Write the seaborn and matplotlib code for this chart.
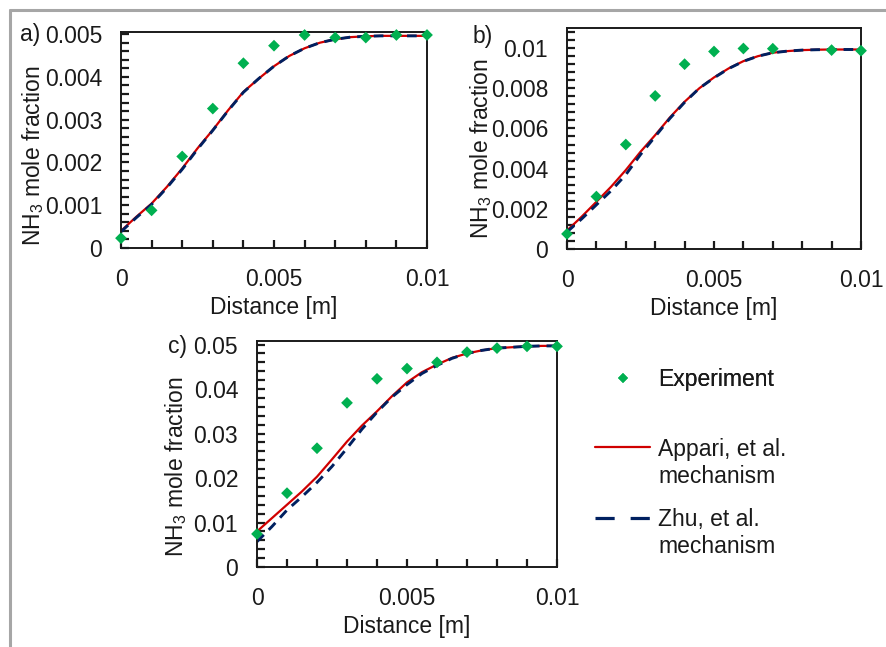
import numpy as np
import pandas as pd
import matplotlib
matplotlib.use("Agg")
import matplotlib.pyplot as plt
from matplotlib.lines import Line2D
from matplotlib.legend_handler import HandlerLine2D
from matplotlib.ticker import FixedLocator, FixedFormatter
import seaborn as sns

# ---------------- data ----------------
exp_x = [0, 0.001, 0.002, 0.003, 0.004, 0.005, 0.006, 0.007, 0.008, 0.009, 0.01]
exp_a = [0.00023, 0.00088, 0.00214, 0.00326, 0.00432, 0.00473, 0.00498, 0.00492, 0.00492, 0.00498, 0.00498]
exp_b_x = [0, 0.001, 0.002, 0.003, 0.004, 0.005, 0.006, 0.007, 0.009, 0.01]
exp_b = [0.00075, 0.00261, 0.0052, 0.00762, 0.0092, 0.00983, 0.00998, 0.00997, 0.0099, 0.00987]
exp_c = [0.00743, 0.0166, 0.0267, 0.0369, 0.0423, 0.0446, 0.046, 0.0483, 0.0492, 0.0496, 0.0496]

model_x = [0, 0.0005, 0.001, 0.0015, 0.002, 0.0025, 0.003, 0.0035, 0.004, 0.0045, 0.005,
           0.0055, 0.006, 0.0065, 0.007, 0.0075, 0.008, 0.0085, 0.009, 0.0095, 0.01]
appari_a = [0.0004, 0.00073, 0.00104, 0.00143, 0.00186, 0.00233, 0.00276, 0.00322, 0.00365, 0.00396, 0.00425,
            0.00449, 0.00467, 0.0048, 0.00488, 0.00493, 0.00495, 0.00496, 0.00496, 0.00496, 0.00496]
zhu_a = [0.00038, 0.00071, 0.00102, 0.00141, 0.00184, 0.00231, 0.00275, 0.00321, 0.00364, 0.00396, 0.00425,
         0.00449, 0.00467, 0.0048, 0.00488, 0.00493, 0.00495, 0.00496, 0.00496, 0.00496, 0.00496]
appari_b = [0.00092, 0.00161, 0.00235, 0.0031, 0.00393, 0.00484, 0.00567, 0.00655, 0.00733, 0.008, 0.00854,
            0.00899, 0.00935, 0.0096, 0.00977, 0.00985, 0.0099, 0.00992, 0.00993, 0.00993, 0.00993]
zhu_b = [0.00085, 0.0015, 0.0022, 0.0029, 0.0037, 0.0047, 0.0056, 0.0065, 0.0073, 0.008, 0.00852,
         0.00898, 0.00934, 0.0096, 0.00977, 0.00985, 0.0099, 0.00992, 0.00993, 0.00993, 0.00993]
appari_c = [0.008, 0.011, 0.014, 0.017, 0.0203, 0.0242, 0.0282, 0.0318, 0.035, 0.0384, 0.0415,
            0.0438, 0.0455, 0.047, 0.048, 0.0487, 0.0492, 0.0494, 0.0496, 0.0497, 0.0497]
zhu_c = [0.0057, 0.0091, 0.0128, 0.0158, 0.019, 0.0226, 0.0267, 0.031, 0.0348, 0.0382, 0.041,
         0.0435, 0.0453, 0.0469, 0.048, 0.0487, 0.0492, 0.0494, 0.0496, 0.0497, 0.0497]

x_major = [0, 0.005, 0.01]
x_labels = ["0", "0.005", "0.01"]
y_major_a = [0, 0.001, 0.002, 0.003, 0.004, 0.005]
y_labels_a = ["0", "0.001", "0.002", "0.003", "0.004", "0.005"]
y_major_b = [0, 0.002, 0.004, 0.006, 0.008, 0.01]
y_labels_b = ["0", "0.002", "0.004", "0.006", "0.008", "0.01"]
y_major_c = [0, 0.01, 0.02, 0.03, 0.04, 0.05]
y_labels_c = ["0", "0.01", "0.02", "0.03", "0.04", "0.05"]
panel_tags = ["a)", "b)", "c)"]
series_names = ["Experiment", "Appari, et al.\nmechanism", "Zhu, et al.\nmechanism"]

# ---------------- style ----------------
sns.set_style("ticks")
plt.rcParams["font.family"] = ["Liberation Sans", "DejaVu Sans"]
plt.rcParams["mathtext.default"] = "regular"
FS = 16.5
RED = "#D00000"
NAVY = "#002060"
GREEN = "#00B050"
INK = "#1a1a1a"
DASH = (0, (3.3, 2.4))
W, H = 886, 647

fig = plt.figure(figsize=(W / 100, H / 100), dpi=100)


def px_axes(l, t, r, b):
    return fig.add_axes([l / W, 1 - b / H, (r - l) / W, (b - t) / H])


ax_a = px_axes(121, 32, 427, 248)
ax_b = px_axes(567, 28, 861, 249)
ax_c = px_axes(257, 341, 557, 567)

panels = [
    (ax_a, exp_x, exp_a, appari_a, zhu_a, y_major_a, y_labels_a, 0.00505, 0.0002, (-0.245, 0.426)),
    (ax_b, exp_b_x, exp_b, appari_b, zhu_b, y_major_b, y_labels_b, 0.011, 0.0004, (-0.248, 0.452)),
    (ax_c, exp_x, exp_c, appari_c, zhu_c, y_major_c, y_labels_c, 0.0508, 0.002, (-0.227, 0.442)),
]

for ax, ex, ey, ap, zh, ymaj, ylab, ytop, ystep, lab_xy in panels:
    sns.lineplot(x=model_x, y=ap, ax=ax, color=RED, linewidth=1.6, estimator=None, zorder=2)
    sns.lineplot(x=model_x, y=zh, ax=ax, color=NAVY, linewidth=2.1,
                 linestyle=DASH, estimator=None, zorder=2.5)
    sns.scatterplot(x=ex, y=ey, ax=ax, marker="D", s=36, color=GREEN,
                    edgecolor="none", linewidth=0, zorder=3, clip_on=False)
    ax.set_xlim(0, 0.01)
    ax.set_ylim(0, ytop)
    ax.xaxis.set_major_locator(FixedLocator(x_major))
    ax.xaxis.set_major_formatter(FixedFormatter(x_labels))
    ax.xaxis.set_minor_locator(FixedLocator(np.arange(0, 0.01001, 0.001)))
    ax.yaxis.set_major_locator(FixedLocator(ymaj))
    ax.yaxis.set_major_formatter(FixedFormatter(ylab))
    ax.yaxis.set_minor_locator(FixedLocator(np.arange(0, ytop, ystep)))
    ax.tick_params(axis="x", which="major", direction="in", length=5.5, width=1.6,
                   color=INK, labelsize=FS, labelcolor=INK, pad=14.5)
    ax.tick_params(axis="y", which="major", direction="in", length=5.5, width=1.6,
                   color=INK, labelsize=FS, labelcolor=INK, pad=13.5)
    ax.tick_params(axis="both", which="minor", direction="in", length=5.5, width=1.6,
                   color=INK)
    for sp in ax.spines.values():
        sp.set_visible(True)
        sp.set_color(INK)
        sp.set_linewidth(1.4)
    ax.set_xlabel("Distance [m]", fontsize=FS, labelpad=3.5, color=INK)
    ax.set_ylabel("NH$_3$ mole fraction", fontsize=FS, color=INK)
    ax.yaxis.set_label_coords(*lab_xy)

# panel tags
fig.text(20 / W, 1 - 34 / H, panel_tags[0], fontsize=FS, ha="left", va="center", color=INK)
fig.text(473 / W, 1 - 36 / H, panel_tags[1], fontsize=FS, ha="left", va="center", color=INK)
fig.text(168 / W, 1 - 347 / H, panel_tags[2], fontsize=FS, ha="left", va="center", color=INK)


class FirstLineHandler(HandlerLine2D):
    """Line handle aligned with the first text line of a two-line label."""

    def __init__(self, dy=0.0, **kw):
        super().__init__(**kw)
        self.dy = dy

    def create_artists(self, legend, orig_handle, xdescent, ydescent, width, height, fontsize, trans):
        arts = super().create_artists(legend, orig_handle, xdescent, ydescent, width, height, fontsize, trans)
        for a in arts:
            a.set_ydata(np.asarray(a.get_ydata(), dtype=float) + self.dy * fontsize)
        return arts


# legends
h_exp = Line2D([], [], marker="D", color=GREEN, linestyle="none", markersize=5.2, markeredgewidth=0)
h_app = Line2D([], [], color=RED, linewidth=1.6)
h_zhu = Line2D([], [], color=NAVY, linewidth=2.3, linestyle=(0, (6.0, 5.0)))

leg1 = fig.legend([h_exp], [series_names[0]], loc="upper left",
                  bbox_to_anchor=(595 / W, 1 - 368 / H), frameon=False, fontsize=FS,
                  borderpad=0, borderaxespad=0, handlelength=2.4, handletextpad=0.35,
                  labelcolor=INK)
fig.legend([h_app, h_zhu], series_names[1:], loc="upper left",
           bbox_to_anchor=(595 / W, 1 - 438 / H), frameon=False, fontsize=FS,
           borderpad=0, borderaxespad=0, handlelength=2.4, handletextpad=0.35,
           labelspacing=0.9, labelcolor=INK,
           handler_map={h_app: FirstLineHandler(0.72), h_zhu: FirstLineHandler(0.72)})
fig.add_artist(leg1)

# outer gray frame
fig.add_artist(Line2D([10 / W, 1], [1 - 10 / H, 1 - 10 / H], transform=fig.transFigure,
                      color="#a6a6a6", linewidth=2.2))
fig.add_artist(Line2D([10 / W, 10 / W], [1 - 10 / H, 0], transform=fig.transFigure,
                      color="#a6a6a6", linewidth=2.2))

fig.savefig("out.png", dpi=100, facecolor="white")
